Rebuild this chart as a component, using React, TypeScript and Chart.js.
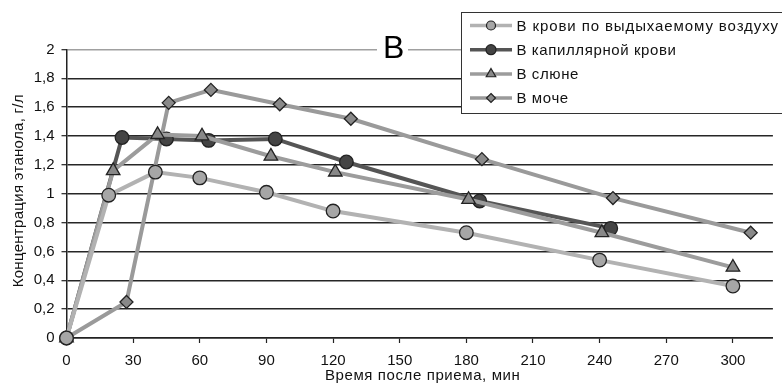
import React, { useEffect, useRef } from "react";
import { Chart, registerables } from "chart.js";

Chart.register(...registerables);

const seriesNames = [
  "В крови по выдыхаемому воздуху",
  "В капиллярной крови",
  "В слюне",
  "В моче",
];

const timeBreath = [0, 19, 40, 60, 90, 120, 180, 240, 300];
const concBreath = [0, 0.99, 1.15, 1.11, 1.01, 0.88, 0.73, 0.54, 0.36];

const timeCap = [0, 25, 45, 64, 94, 126, 186, 245];
const concCap = [0, 1.39, 1.38, 1.37, 1.38, 1.22, 0.95, 0.76];

const timeSaliva = [0, 21, 41, 61, 92, 121, 181, 241, 300];
const concSaliva = [0, 1.16, 1.41, 1.4, 1.26, 1.15, 0.96, 0.73, 0.49];

const timeUrine = [0, 27, 46, 65, 96, 128, 187, 246, 308];
const concUrine = [0, 0.25, 1.63, 1.72, 1.62, 1.52, 1.24, 0.97, 0.73];

const xTickValues = [0, 30, 60, 90, 120, 150, 180, 210, 240, 270, 300];
const yTickValues = [0, 0.2, 0.4, 0.6, 0.8, 1, 1.2, 1.4, 1.6, 1.8, 2];
const yTickLabels = ["0", "0,2", "0,4", "0,6", "0,8", "1", "1,2", "1,4", "1,6", "1,8", "2"];

const panelLabel = "В";
const xTitle = "Время после приема, мин";
const yTitle = "Концентрация этанола, г/л";

const FONT = "'Liberation Sans', Arial, sans-serif";

const zip = (xs: number[], ys: number[]) => xs.map((x, i) => ({ x, y: ys[i] }));

function drawMarker(ctx: CanvasRenderingContext2D, style: string, x: number, y: number, r: number) {
  ctx.beginPath();
  if (style === "circle") {
    ctx.arc(x, y, r, 0, Math.PI * 2);
  } else if (style === "triangle") {
    for (let i = 0; i < 3; i++) {
      const a = (i * 2 * Math.PI) / 3;
      const px = x + Math.sin(a) * r;
      const py = y - Math.cos(a) * r;
      if (i === 0) ctx.moveTo(px, py);
      else ctx.lineTo(px, py);
    }
    ctx.closePath();
  } else {
    ctx.moveTo(x, y - r);
    ctx.lineTo(x + r, y);
    ctx.lineTo(x, y + r);
    ctx.lineTo(x - r, y);
    ctx.closePath();
  }
  ctx.fill();
  ctx.stroke();
}

const overlayPlugin = {
  id: "overlay",
  afterDraw(chart: any) {
    const ctx: any = chart.ctx;
    const area = chart.chartArea;
    ctx.save();

    // axis titles
    ctx.fillStyle = "#111";
    ctx.font = `15px ${FONT}`;
    ctx.letterSpacing = "0.6px";
    ctx.textAlign = "center";
    ctx.textBaseline = "alphabetic";
    ctx.fillText(xTitle, (area.left + area.right) / 2 + 3, 380);
    ctx.save();
    ctx.translate(22.5, (area.top + area.bottom) / 2 - 3);
    ctx.rotate(-Math.PI / 2);
    ctx.letterSpacing = "0.3px";
    ctx.fillText(yTitle, 0, 0);
    ctx.restore();

    // panel label
    ctx.letterSpacing = "0px";
    ctx.fillStyle = "#fff";
    ctx.fillRect(377, 33, 31, 30);
    ctx.fillStyle = "#000";
    ctx.font = `32px ${FONT}`;
    ctx.textAlign = "center";
    ctx.textBaseline = "alphabetic";
    ctx.fillText(panelLabel, 393.7, 58.3);

    // legend
    const lx = 461.5, ly = 12.5, lw = 340, lh = 101;
    ctx.fillStyle = "#fff";
    ctx.fillRect(lx, ly, lw, lh);
    ctx.strokeStyle = "#333";
    ctx.lineWidth = 1;
    ctx.strokeRect(lx, ly, lw, lh);
    const rowsY = [25.5, 49.7, 74, 98];
    const legendR = [4.5, 5, 5.5, 4.5];
    const spacing = ["0.9px", "0.6px", "0.6px", "0.6px"];
    chart.data.datasets.forEach((ds: any, i: number) => {
      const y = rowsY[i];
      ctx.strokeStyle = ds.borderColor;
      ctx.lineWidth = 3.5;
      ctx.beginPath();
      ctx.moveTo(470, y);
      ctx.lineTo(512, y);
      ctx.stroke();
      ctx.fillStyle = ds.pointBackgroundColor;
      ctx.strokeStyle = "#222";
      ctx.lineWidth = 1.2;
      drawMarker(ctx, ds.pointStyle, 491, y, legendR[i]);
      ctx.fillStyle = "#111";
      ctx.font = `15px ${FONT}`;
      ctx.letterSpacing = spacing[i];
      ctx.textAlign = "left";
      ctx.textBaseline = "alphabetic";
      ctx.fillText(ds.label, 516.5, y + 5.3);
      ctx.letterSpacing = "0px";
    });
    ctx.restore();
  },
};

export default function App() {
  const ref = useRef<HTMLCanvasElement | null>(null);
  useEffect(() => {
    if (!ref.current) return;
    const common = {
      borderWidth: 4,
      pointBorderColor: "#222",
      pointBorderWidth: 1.3,
      clip: false as any,
      tension: 0,
    };
    const chart = new Chart(ref.current, {
      type: "line",
      data: {
        datasets: [
          {
            ...common,
            label: seriesNames[0],
            data: zip(timeBreath, concBreath),
            borderColor: "#b2b2b2",
            pointBackgroundColor: "#a6a6a6",
            pointStyle: "circle",
            pointRadius: 6.8,
            order: 0,
          },
          {
            ...common,
            label: seriesNames[1],
            data: zip(timeCap, concCap),
            borderColor: "#555555",
            pointBackgroundColor: "#444444",
            pointStyle: "circle",
            pointRadius: 6.8,
            order: 2,
          },
          {
            ...common,
            label: seriesNames[2],
            data: zip(timeSaliva, concSaliva),
            borderColor: "#9c9c9c",
            pointBackgroundColor: "#888888",
            pointStyle: "triangle",
            pointRadius: 7.8,
            order: 1,
          },
          {
            ...common,
            label: seriesNames[3],
            data: zip(timeUrine, concUrine),
            borderColor: "#9a9a9a",
            pointBackgroundColor: "#898989",
            pointStyle: "rectRot",
            pointRadius: 6.5,
            order: 3,
          },
        ] as any,
      },
      options: {
        animation: false,
        responsive: false,
        maintainAspectRatio: false,
        layout: { padding: { left: 0, right: 0, top: 49.5, bottom: 0 } },
        plugins: { legend: { display: false }, tooltip: { enabled: false } },
        scales: {
          x: {
            type: "linear",
            min: 0,
            max: 318,
            afterBuildTicks: (s: any) => {
              s.ticks = xTickValues.map((v) => ({ value: v }));
            },
            afterFit: (s: any) => {
              s.height = 45;
            },
            grid: {
              drawOnChartArea: false,
              drawTicks: true,
              tickLength: 5,
              tickColor: "#222",
              tickWidth: 1.2,
            },
            border: { display: true, color: "#222", width: 1.5 },
            ticks: {
              color: "#111",
              font: { family: FONT, size: 15 },
              padding: 8.5,
              maxRotation: 0,
              autoSkip: false,
              callback: (v: any) => String(v),
            },
            title: { display: false },
          },
          y: {
            type: "linear",
            min: 0,
            max: 2,
            afterBuildTicks: (s: any) => {
              s.ticks = yTickValues.map((v) => ({ value: v }));
            },
            afterFit: (s: any) => {
              s.width = 66.5;
            },
            grid: {
              color: (c: any) => (c.tick && Math.abs(c.tick.value - 2) < 1e-6 ? "#a0a0a0" : "#262626"),
              lineWidth: 1.4,
              drawTicks: true,
              tickLength: 5,
              tickColor: "#222",
              tickWidth: 1.2,
            },
            border: { display: true, color: "#222", width: 1.5 },
            ticks: {
              color: "#111",
              font: { family: FONT, size: 15 },
              padding: 7,
              autoSkip: false,
              callback: (v: any, i: number) => yTickLabels[i],
            },
            title: { display: false },
          },
        },
      },
      plugins: [overlayPlugin],
    });
    return () => chart.destroy();
  }, []);
  return (
    <div style={{ position: "absolute", left: 0, top: 0, width: 782, height: 383, background: "#fff" }}>
      <canvas ref={ref} width={782} height={383} style={{ width: 782, height: 383, display: "block" }} />
    </div>
  );
}
